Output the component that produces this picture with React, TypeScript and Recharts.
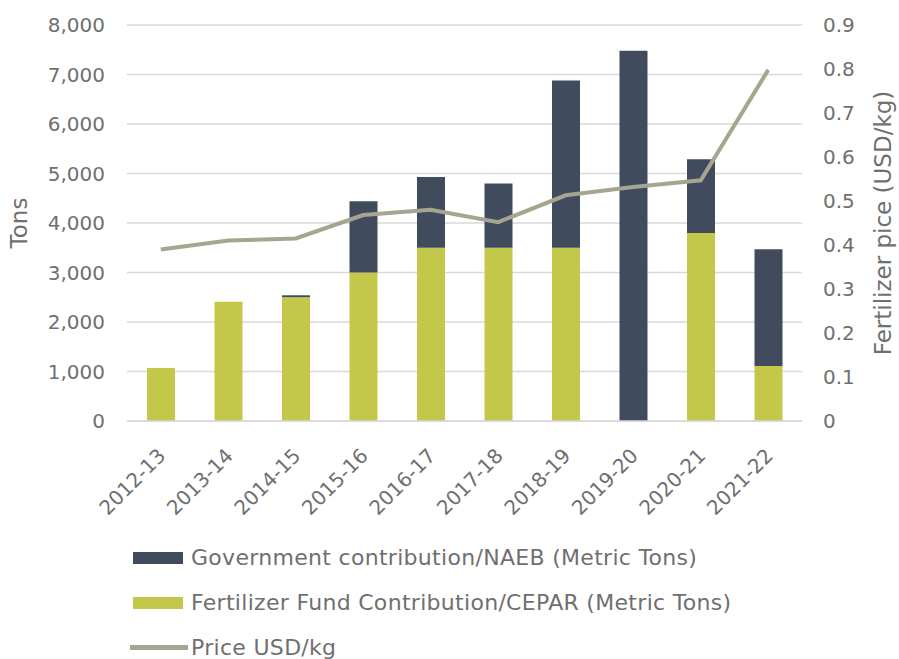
import React from 'react';
import {
  ComposedChart,
  Bar,
  Line,
  XAxis,
  YAxis,
  CartesianGrid,
  Legend,
} from 'recharts';

// 연도별 비료 지원량과 가격
const seasons = ['2012-13', '2013-14', '2014-15', '2015-16', '2016-17', '2017-18', '2018-19', '2019-20', '2020-21', '2021-22'];
const cepar = [1070, 2410, 2500, 3000, 3500, 3500, 3500, 0, 3800, 1110];
const naeb = [0, 0, 40, 1440, 1430, 1300, 3380, 7480, 1490, 2360];
const price = [0.39, 0.41, 0.415, 0.468, 0.48, 0.452, 0.513, 0.532, 0.547, 0.798];

const tonTicks = [0, 1000, 2000, 3000, 4000, 5000, 6000, 7000, 8000];
const priceTicks = [0, 0.1, 0.2, 0.3, 0.4, 0.5, 0.6, 0.7, 0.8, 0.9];

const legendItems = [
  { name: 'Government contribution/NAEB (Metric Tons)', color: '#404c5e', kind: 'bar' },
  { name: 'Fertilizer Fund Contribution/CEPAR (Metric Tons)', color: '#c3c84b', kind: 'bar' },
  { name: 'Price USD/kg', color: '#a6a690', kind: 'line' },
];

const data = seasons.map((s, i) => ({
  season: s,
  cepar: cepar[i],
  naeb: naeb[i],
  price: price[i],
}));

const TEXT = '#6f6f6f';
const tickStyle = { fill: TEXT, fontSize: 20 };

const ChartLegend = () => (
  <div style={{ color: TEXT, fontSize: 22, letterSpacing: 0.3 }}>
    {legendItems.map((item) => (
      <div key={item.name} style={{ height: 45, display: 'flex', alignItems: 'center' }}>
        {item.kind === 'bar' ? (
          <span style={{ display: 'inline-block', width: 50, height: 12, background: item.color, marginLeft: 3, marginRight: 8 }} />
        ) : (
          <span style={{ display: 'inline-block', width: 58, height: 5, background: item.color, marginRight: 3 }} />
        )}
        <span>{item.name}</span>
      </div>
    ))}
  </div>
);

export default function App() {
  return (
    <div style={{ position: 'absolute', left: 0, top: 0, width: 899, height: 659, background: '#fff', fontFamily: 'DejaVu Sans' }}>
      <ComposedChart
        width={899}
        height={659}
        data={data}
        margin={{ top: 25, right: 10, bottom: 138, left: 10 }}
        barCategoryGap="30%"
      >
        <CartesianGrid yAxisId="tons" vertical={false} stroke="#d9d9d9" strokeWidth={1.5} />
        <XAxis
          dataKey="season"
          height={100}
          interval={0}
          tick={{ ...tickStyle, angle: -45, textAnchor: 'end', dx: -4 }}
          tickLine={false}
          tickMargin={20}
          axisLine={{ stroke: '#d9d9d9', strokeWidth: 1.5 }}
        />
        <YAxis
          yAxisId="tons"
          width={117}
          domain={[0, 8000]}
          ticks={tonTicks}
          tickFormatter={(v: number) => v.toLocaleString('en-US')}
          tick={tickStyle}
          tickLine={false}
          axisLine={false}
          tickMargin={16}
          label={{ value: 'Tons', angle: -90, position: 'insideLeft', offset: 9, fill: TEXT, fontSize: 23, style: { textAnchor: 'middle' } }}
        />
        <YAxis
          yAxisId="price"
          orientation="right"
          width={87}
          domain={[0, 0.9]}
          ticks={priceTicks}
          tickFormatter={(v: number) => String(v)}
          tick={tickStyle}
          tickLine={false}
          axisLine={false}
          tickMargin={15}
          label={{ value: 'Fertilizer pice (USD/kg)', angle: -90, position: 'insideRight', offset: 6, fill: TEXT, fontSize: 23, style: { textAnchor: 'middle' } }}
        />
        <Legend
          layout="vertical"
          align="center"
          verticalAlign="middle"
          wrapperStyle={{ left: 130, top: 535, width: 760 }}
          content={() => <ChartLegend />}
        />
        <Bar yAxisId="tons" dataKey="cepar" stackId="t" fill="#c3c84b" barSize={28} isAnimationActive={false} />
        <Bar yAxisId="tons" dataKey="naeb" stackId="t" fill="#404c5e" barSize={28} isAnimationActive={false} />
        <Line
          yAxisId="price"
          type="linear"
          dataKey="price"
          stroke="#a6a690"
          strokeWidth={4}
          dot={false}
          isAnimationActive={false}
        />
      </ComposedChart>
    </div>
  );
}
